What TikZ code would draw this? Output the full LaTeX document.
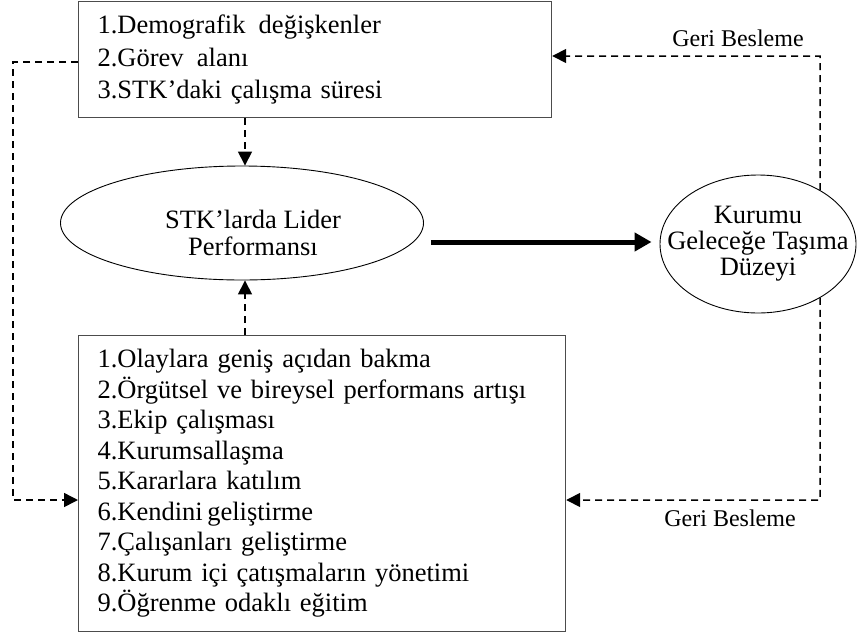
\documentclass[tikz,border=0pt]{standalone}
\usepackage{fontspec}
\setmainfont{Liberation Serif}
\usetikzlibrary{arrows.meta,shapes.geometric}
\begin{document}
\begin{tikzpicture}[x=1pt,y=1pt,
  box/.style={draw=black!70,line width=1.2pt,inner xsep=19pt,inner ysep=0pt,anchor=north west,align=left},
  oval/.style={ellipse,draw,line width=0.9pt,inner sep=0pt},
  fb/.style={dash pattern=on 7pt off 5pt,line width=1.5pt},
  tip/.style={-{Triangle[length=14pt,width=14pt]}},
  lbl/.style={font=\fontsize{24}{28}\selectfont,inner sep=0pt}
]
\useasboundingbox (0,0) rectangle (858,-635);
\node[box,text width=435pt,minimum height=116pt,font=\fontsize{26.5}{32.5}\selectfont] (top) at (78,-1)
  {1.Demografik\, değişkenler\\2.Görev\, alanı\\3.STK’daki çalışma süresi};
\node[box,text width=449pt,minimum height=296pt,font=\fontsize{26.5}{30.5}\selectfont] (bot) at (78,-335)
  {1.Olaylara geniş açıdan bakma\\2.Örgütsel ve bireysel performans artışı\\3.Ekip çalışması\\4.Kurumsallaşma\\5.Kararlara katılım\\6.Kendini\,geliştirme\\7.Çalışanları geliştirme\\8.Kurum içi çatışmaların yönetimi\\9.Öğrenme odaklı eğitim};
\node[oval,minimum width=363pt,minimum height=114pt] (e1) at (242,-223) {};
\node[align=center,inner sep=0pt,font=\fontsize{26.5}{27}\selectfont] (e1t) at (253,-233) {STK’larda Lider\\Performansı};
\node[oval,minimum width=196pt,minimum height=138pt] (e2) at (758,-244) {};
\node[align=center,inner sep=0pt,font=\fontsize{26.5}{26}\selectfont] (e2t) at (e2) {Kurumu\\Geleceğe Taşıma\\Düzeyi};
\coordinate (ax) at (245,0);
\coordinate (L1) at (13,-62);
\coordinate (L2) at (13,-500);
\coordinate (R1) at (820,-56);
\coordinate (R2) at (820,-500);
\coordinate (A) at (0,-242);
\draw[fb,tip] (top.south -| ax) -- (e1.north -| ax);
\draw[fb,tip] (bot.north -| ax) -- (e1.south -| ax);
\draw[fb,tip] (top.west |- L1) -- (L1) -- (L2) -- (bot.west |- L2);
\draw[fb,tip] (e2.41) -- (R1) -- (top.east |- R1);
\draw[fb,tip] (e2.-41) -- (R2) -- (bot.east |- R2);
\draw[line width=5pt,-{Triangle[length=17pt,width=18pt]},shorten >=8pt] ([xshift=7pt]e1.east |- A) -- (e2.west |- A);
\node[lbl] (g1) at (738,-38) {Geri Besleme};
\node[lbl] (g2) at (730,-518) {Geri Besleme};
\end{tikzpicture}
\end{document}
